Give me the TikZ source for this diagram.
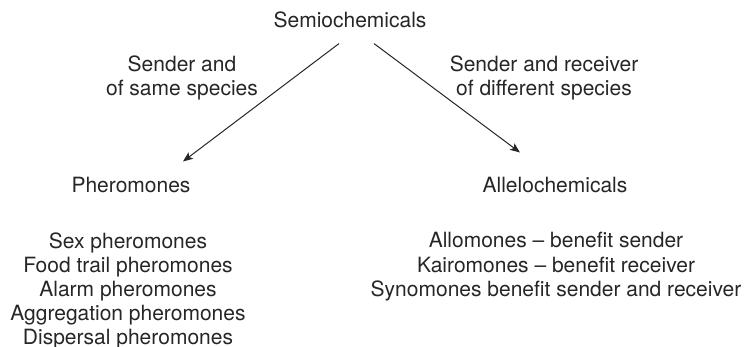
\documentclass[tikz,border=0pt]{standalone}
\usepackage{fontspec}
\setmainfont{TeX Gyre Heros}
\usetikzlibrary{arrows.meta, positioning}
\tikzset{>={Stealth[length=10pt,width=8pt,inset=2.5pt]}, x=1pt, y=-1pt}
% base of a multi-line node is its last line
\tikzset{lbl/.style={inner sep=0pt, anchor=base, align=center, font=\fontsize{21}{24}\selectfont, text=black!85}}

\begin{document}
\begin{tikzpicture}
    \useasboundingbox (0,0) rectangle (744,347);
    \node[lbl] (semio) at (350,28) {Semiochemicals};
    \node[lbl] (same) at (182,96) {Sender and\\of same species};
    \node[lbl] (diff) at (544,96) {Sender and receiver\\of different species};
    \node[lbl] (pher) at (131,193) {Pheromones};
    \node[lbl] (allelo) at (555,193) {Allelochemicals};
    \node[lbl] (pher-list) at (128,344) {Sex pheromones\\Food trail pheromones\\Alarm pheromones\\Aggregation pheromones\\Dispersal pheromones};
    \node[lbl] (allelo-list) at (556,296) {Allomones -- benefit sender\\Kairomones -- benefit receiver\\Synomones benefit sender and receiver};
    \draw[->, line width=1pt, black!85] ([shift={(-11,15)}]semio.south) -- ([shift={(52,-16)}]pher.north);
    \draw[->, line width=1pt, black!85] ([shift={(24,15)}]semio.south) -- ([shift={(-35,-25)}]allelo.north);
\end{tikzpicture}
\end{document}
